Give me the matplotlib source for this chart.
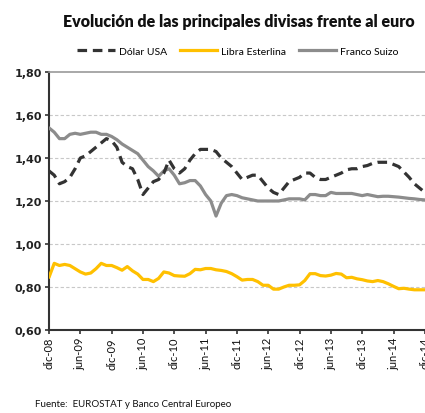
import matplotlib
matplotlib.use("Agg")
import matplotlib.pyplot as plt
from matplotlib.lines import Line2D

# monthly values, dic-08 .. dic-14
meses = list(range(73))
tick_pos = list(range(0, 73, 6))
tick_labels = ["dic-08", "jun-09", "dic-09", "jun-10", "dic-10", "jun-11", "dic-11",
               "jun-12", "dic-12", "jun-13", "dic-13", "jun-14", "dic-14"]

dolar = [1.34, 1.32, 1.28, 1.29, 1.31, 1.35, 1.40, 1.41, 1.43, 1.45, 1.47, 1.49,
         1.48, 1.45, 1.38, 1.36, 1.35, 1.30, 1.23, 1.26, 1.29, 1.30, 1.33, 1.39,
         1.35, 1.33, 1.35, 1.39, 1.42, 1.44, 1.44, 1.44, 1.43, 1.40, 1.38, 1.36,
         1.33, 1.30, 1.31, 1.32, 1.32, 1.29, 1.26, 1.24, 1.23, 1.26, 1.29, 1.30,
         1.31, 1.33, 1.33, 1.31, 1.30, 1.30, 1.31, 1.32, 1.33, 1.345, 1.35, 1.35,
         1.36, 1.365, 1.375, 1.38, 1.38, 1.38, 1.37, 1.36, 1.335, 1.31, 1.28, 1.26,
         1.24]
libra = [0.845, 0.91, 0.90, 0.905, 0.90, 0.885, 0.87, 0.86, 0.865, 0.885, 0.91, 0.90,
         0.90, 0.89, 0.878, 0.895, 0.875, 0.86, 0.835, 0.835, 0.825, 0.84, 0.87, 0.865,
         0.853, 0.851, 0.85, 0.862, 0.882, 0.88, 0.886, 0.886, 0.88, 0.877, 0.872, 0.862,
         0.848, 0.832, 0.835, 0.835, 0.825, 0.808, 0.808, 0.79, 0.79, 0.80, 0.808, 0.808,
         0.81, 0.83, 0.862, 0.862, 0.853, 0.851, 0.855, 0.863, 0.86, 0.843, 0.845, 0.838,
         0.834, 0.828, 0.825, 0.83, 0.825, 0.815, 0.803, 0.792, 0.794, 0.79, 0.787, 0.787,
         0.787]
franco = [1.54, 1.52, 1.49, 1.49, 1.51, 1.515, 1.51, 1.515, 1.52, 1.52, 1.51, 1.51,
          1.50, 1.485, 1.465, 1.45, 1.435, 1.42, 1.39, 1.36, 1.34, 1.315, 1.34, 1.35,
          1.32, 1.28, 1.285, 1.295, 1.295, 1.27, 1.23, 1.20, 1.13, 1.19, 1.225, 1.23,
          1.225, 1.215, 1.21, 1.205, 1.20, 1.20, 1.20, 1.20, 1.20, 1.205, 1.21, 1.21,
          1.21, 1.205, 1.23, 1.23, 1.225, 1.225, 1.24, 1.235, 1.235, 1.235, 1.235, 1.23,
          1.225, 1.23, 1.225, 1.22, 1.222, 1.222, 1.22, 1.218, 1.215, 1.212, 1.21, 1.207,
          1.205]
y_ticks = [0.60, 0.80, 1.00, 1.20, 1.40, 1.60, 1.80]

c_dolar = "#333333"
c_libra = "#FFC000"
c_franco = "#8C8C8C"
dash = (3.0, 1.8)

fig = plt.figure(figsize=(4.25, 4.14), dpi=100, facecolor="white")
ax = fig.add_axes([0.1153, 0.2005, 0.9334, 0.6232])

ax.plot(meses, franco, color=c_franco, lw=2.3, solid_capstyle="round", zorder=3)
ax.plot(meses, libra, color=c_libra, lw=2.3, solid_capstyle="round", zorder=3)
ax.plot(meses, dolar, color=c_dolar, lw=2.3, dashes=dash, zorder=4)

ax.set_xlim(0, 76)
ax.set_ylim(0.6, 1.8)
ax.set_yticks(y_ticks)
ax.set_yticklabels([f"{v:.2f}".replace(".", ",") for v in y_ticks],
                   fontsize=8, fontweight="bold", color="#222222")
ax.set_xticks(tick_pos)
ax.set_xticklabels(tick_labels, rotation=90, fontsize=8, color="#111111", family="Lato")
ax.tick_params(axis="both", direction="out", length=3, width=1.2, color="#333333", pad=2)

for v in y_ticks[1:-1]:
    ax.axhline(v, color="#c8c8c8", lw=0.8, ls=(0, (3, 2)), zorder=1)

ax.spines["left"].set_color("#333333")
ax.spines["left"].set_linewidth(1.5)
ax.spines["bottom"].set_color("#333333")
ax.spines["bottom"].set_linewidth(1.5)
ax.spines["top"].set_color("#9a9a9a")
ax.spines["top"].set_linewidth(1.2)
ax.spines["right"].set_visible(False)

fig.text(0.562, 0.948, "Evolución de las principales divisas frente al euro",
         ha="center", va="center", fontsize=11.5, fontweight="heavy", color="#111111",
         family="Lato")

handles = [
    Line2D([], [], color=c_dolar, lw=2.3, dashes=dash),
    Line2D([], [], color=c_libra, lw=2.3),
    Line2D([], [], color=c_franco, lw=2.3),
]
fig.legend(handles, ["Dólar USA", "Libra Esterlina", "Franco Suizo"],
           loc="center", bbox_to_anchor=(0.56, 0.874), ncol=3, frameon=False,
           prop={"family": "Lato", "size": 7.5}, handlelength=3.6,
           handletextpad=0.4, columnspacing=1.2)

fig.text(0.082, 0.012, "Fuente:  EUROSTAT y Banco Central Europeo",
         ha="left", va="bottom", fontsize=7, color="#111111", family="Lato")

fig.savefig("out.png", dpi=100, facecolor="white")
